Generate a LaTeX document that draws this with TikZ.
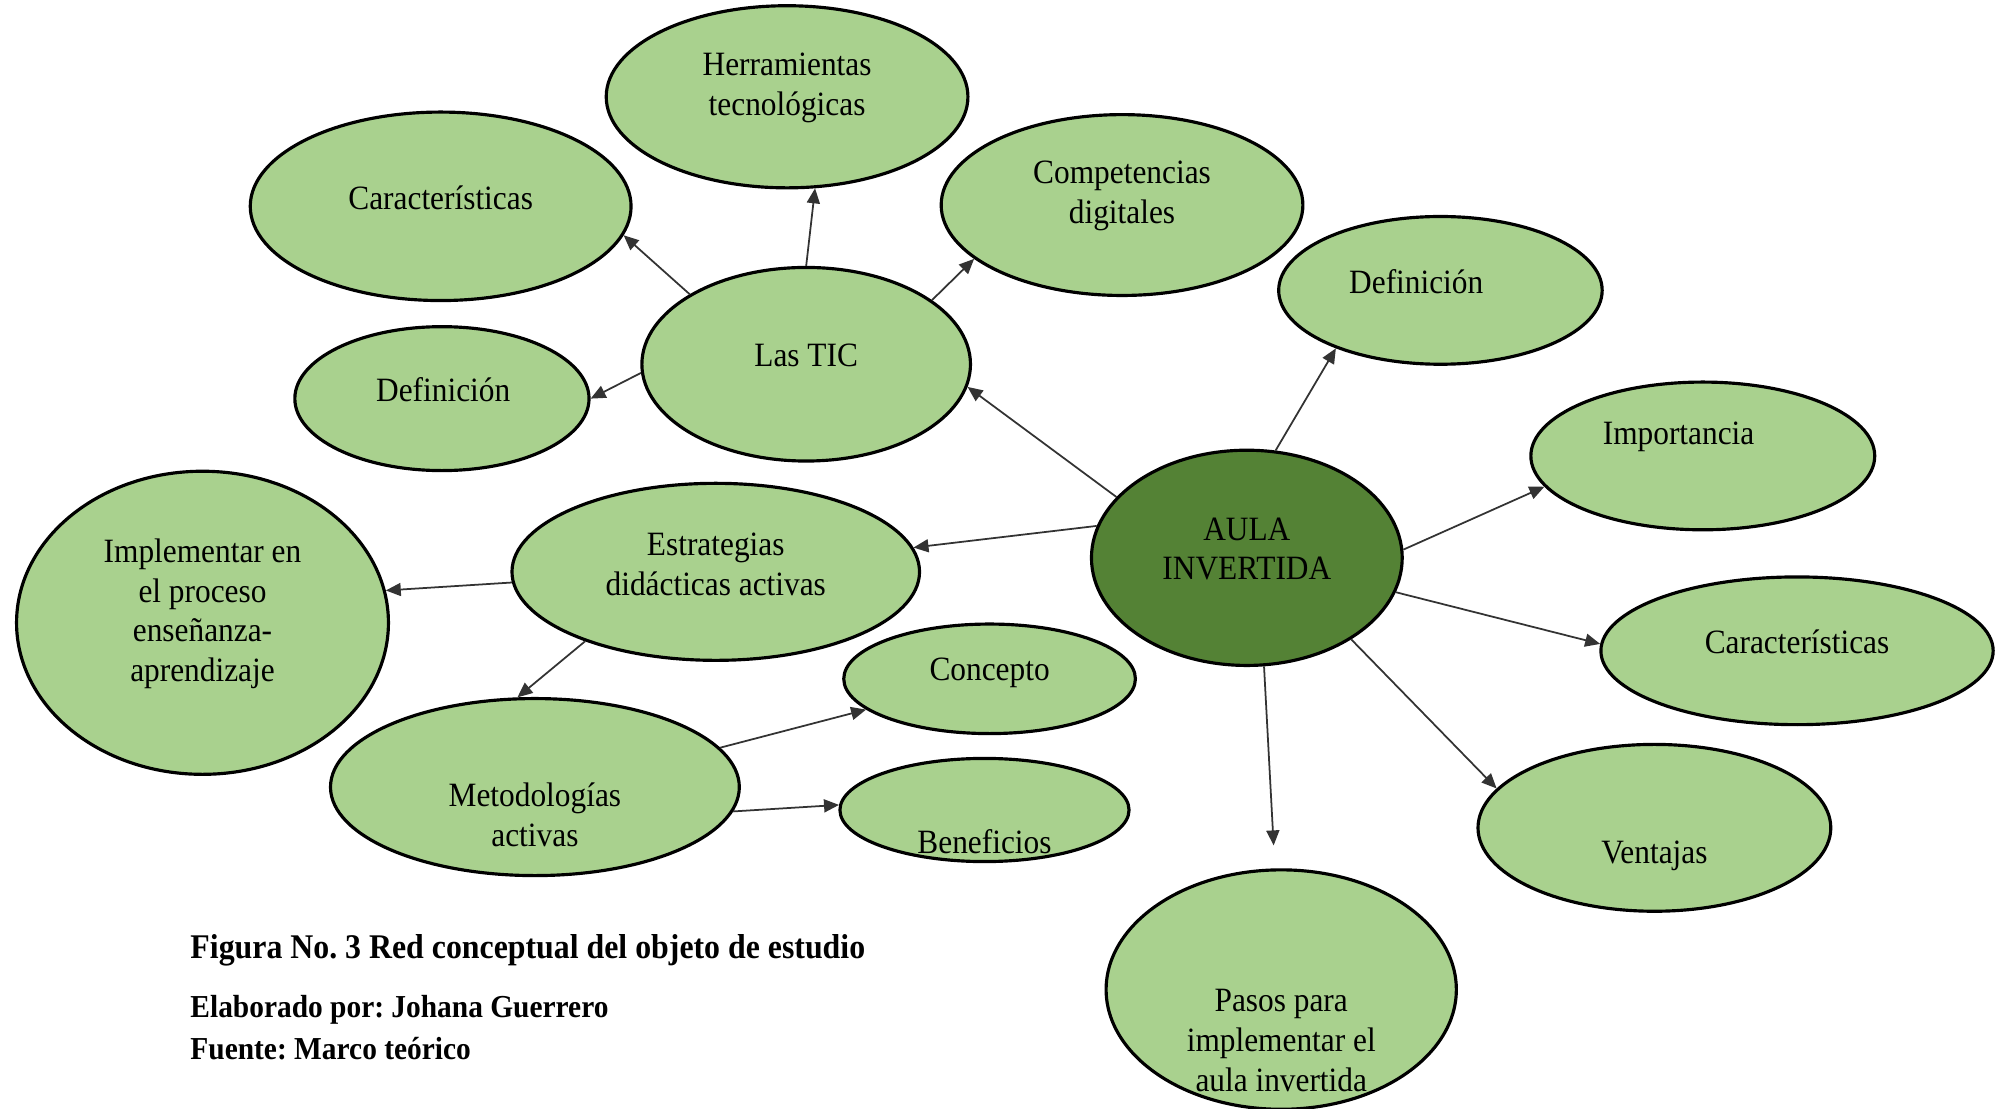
\documentclass[tikz,border=0pt]{standalone}
\usepackage{fontspec}
\setmainfont[FakeStretch=0.92]{Liberation Serif}
\usetikzlibrary{shapes.geometric,arrows.meta}
\definecolor{verdeclaro}{HTML}{A9D18E}
\definecolor{verdeoscuro}{HTML}{548235}
\frenchspacing
\begin{document}
\begin{tikzpicture}[x=0.012736cm,y=-0.012736cm]
				\def\u{0.012736cm}
				\tikzset{e/.style 2 args={draw=black,line width=0.9pt,fill=verdeclaro,ellipse,inner sep=0pt,minimum width=#1*\u,minimum height=#2*\u},
					t/.style={align=center,inner sep=0pt,font=\fontsize{9.7}{11.3}\selectfont},
					pie/.style={anchor=west,inner sep=0pt,font=\fontsize{#1}{11.2}\selectfont\bfseries}}
				\useasboundingbox(0,0)rectangle(1568,870);
				\path(618,76)node[e={284}{143}](herr){}(618,69)node[t](herr-t){Herramientas\\tecnológicas};
				\path(346,162)node[e={299}{148}](carL){}(346,155)node[t](carL-t){Características};
				\path(881,161)node[e={284}{142}](comp){}(881,154)node[t](comp-t){Competencias\\digitales};
				\path(633,286)node[e={258}{152}](tic){}(633,279)node[t](tic-t){Las TIC};
				\path(347,313)node[e={231}{113}](defL){}(348,306)node[t](defL-t){Definición};
				\path(1131,228)node[e={254}{116}](defR){}(1112,221)node[t](defR-t){Definición};
				\path(1337,358)node[e={270}{116}](imp){}(1318,343)node[t](imp-t){Importancia};
				\path(979,438)node[e={244}{169},fill=verdeoscuro](aula){}(979,431)node[t](aula-t){AULA\\INVERTIDA};
				\path(562,449)node[e={320}{139}](estr){}(562,443)node[t](estr-t){Estrategias\\didácticas activas};
				\path(159,489)node[e={292}{238}](impl){}(159,482)node[t](impl-t){Implementar en\\el proceso\\enseñanza-\\aprendizaje};
				\path(1411,511)node[e={308}{116}](carR){}(1411,504)node[t](carR-t){Características};
				\path(777,533)node[e={229}{86}](conc){}(777,528)node[t](conc-t){Concepto};
				\path(420,618)node[e={321}{139}](met){}(420,640)node[t](met-t){Metodologías\\activas};
				\path(773,636)node[e={227}{81}](ben){}(773,661)node[t](ben-t){Beneficios};
				\path(1299,650)node[e={277}{131}](vent){}(1299,672)node[t](vent-t){Ventajas};
				\path(1006,777)node[e={275}{188}](pasos){}(1006,817)node[t](pasos-t){Pasos para\\implementar el\\aula invertida};
				\foreach \x/\y in {
					aula.155.5/tic.-8.8,aula.75.3/defR.-151.9,aula.3.8/imp.-169.7,
					aula.-13.6/carR.178.6,aula.-38.9/vent.166.6,aula.168/estr.7.7,
					tic.149.3/carL.-9.4,tic.90/herr.-73.7,tic.27/comp.-160.1,tic.-177.8/defL.0.5,
					estr.-177.9/impl.10.5,estr.-152.1/met.101.3,
					met.12.9/conc.-166.8,met.-7.6/ben.178.4}
				\draw[black!80,line width=0.5pt,-{Triangle[length=1.5mm,width=1.3mm]}](\x)--(\y);
				\draw[black!80,line width=0.5pt,-{Triangle[length=1.5mm,width=1.3mm]},shorten >=0.23cm](aula.-81.6)--(pasos.93.6);
				\path(149,746)node[pie=9.85](fig){Figura No. 3 Red conceptual del objeto de estudio}
				(149,793)node[pie=9.1](elab){Elaborado por: Johana Guerrero}
				(149,823)node[pie=9.1](fuente){Fuente: Marco teórico};
			\end{tikzpicture}
\end{document}
